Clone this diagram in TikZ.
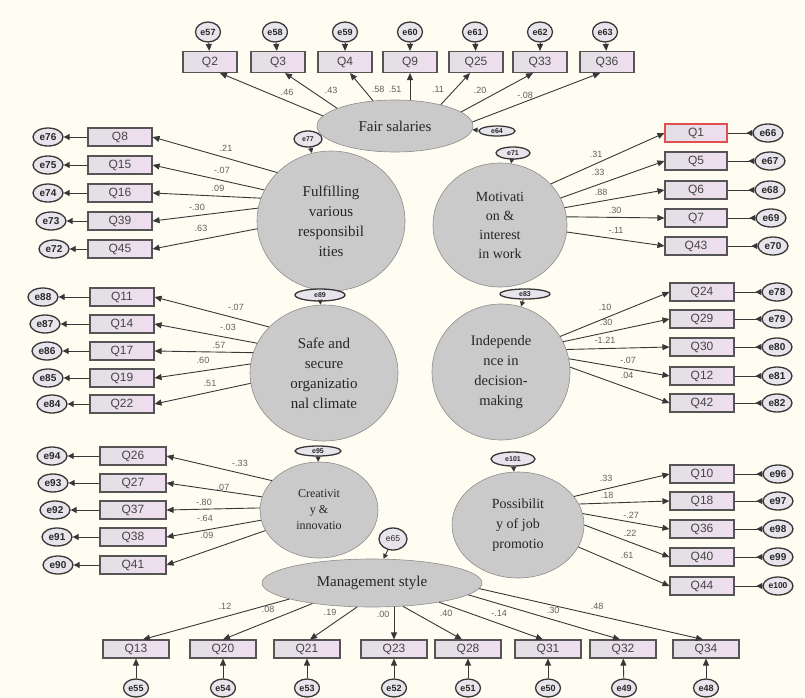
\documentclass[tikz,border=0pt]{standalone}
\usepackage{fontspec}
\setmainfont{Liberation Serif}
\setsansfont{Liberation Sans}
\usetikzlibrary{arrows.meta,shapes.geometric}
\definecolor{bg}{RGB}{255,253,242}
\definecolor{boxline}{RGB}{85,85,85}
\definecolor{boxL}{RGB}{226,224,228}
\definecolor{boxR}{RGB}{240,222,240}
\definecolor{qtext}{RGB}{70,70,70}
\definecolor{latfill}{RGB}{202,202,202}
\definecolor{latline}{RGB}{140,140,140}
\definecolor{errline}{RGB}{55,55,55}
\definecolor{errfill}{RGB}{232,228,236}
\definecolor{errtext}{RGB}{40,40,40}
\definecolor{lnc}{RGB}{55,55,55}
\definecolor{coefc}{RGB}{95,95,95}
\definecolor{redline}{RGB}{225,80,80}
\begin{document}
\begin{tikzpicture}[x=1pt,y=-1pt,
  obs/.style={rectangle, draw=boxline, line width=1.1pt, left color=boxL, right color=boxR, minimum width=64pt, minimum height=18pt, inner sep=0pt, font=\sffamily\fontsize{12}{12}\selectfont, text=qtext},
  obsT/.style={obs, minimum width=54pt, minimum height=21pt},
  obsB/.style={obs, minimum width=66pt},
  err/.style={ellipse, draw=errline, line width=1.3pt, fill=errfill, minimum width=30pt, minimum height=18pt, inner sep=0pt, font=\sffamily\bfseries\fontsize{10}{10}\selectfont, text=errtext},
  errT/.style={err, minimum width=25pt, minimum height=20pt, font=\sffamily\bfseries\fontsize{9}{9}\selectfont},
  errB/.style={err, minimum width=25pt, minimum height=18pt, font=\sffamily\bfseries\fontsize{9}{9}\selectfont},
  errS/.style={err, font=\sffamily\bfseries\fontsize{7}{7}\selectfont},
  lat/.style={ellipse, draw=latline, line width=0.6pt, fill=latfill, inner sep=0pt, align=center, text=black!85, font=\fontsize{15}{20}\selectfont},
  reg/.style={draw=lnc, line width=0.9pt, -{Triangle[length=7pt,width=6pt]}},
  regS/.style={draw=lnc, line width=0.9pt, -{Triangle[length=5pt,width=5pt]}},
  elinkL/.style={draw=lnc, line width=1pt, -{Triangle[length=6pt,width=6pt]}},
  elinkR/.style={draw=lnc, line width=1pt, -{Triangle[reversed,length=6pt,width=6pt]}},
  coef/.style={font=\sffamily\fontsize{9}{9}\selectfont, text=coefc, inner sep=0.5pt},
]
\fill[bg] (0,0) rectangle (805,698);
\useasboundingbox (0,0) rectangle (805,698);

% ---------- latent variables ----------
\node[lat, minimum width=156pt, minimum height=52pt] (fs) at (395,126) {Fair salaries};
\node[lat, minimum width=148pt, minimum height=140pt] (ful) at (331,221) {Fulfilling\\various\\responsibil\\ities};
\node[lat, minimum width=134pt, minimum height=124pt, font=\fontsize{14}{19}\selectfont] (mot) at (500,225) {Motivati\\on \&\\interest\\in work};
\node[lat, minimum width=148pt, minimum height=136pt] (safe) at (324,373) {Safe and\\secure\\organizatio\\nal climate};
\node[lat, minimum width=138pt, minimum height=136pt, font=\fontsize{14.5}{20}\selectfont] (ind) at (501,372) {Independe\\nce in\\decision-\\making};
\node[lat, minimum width=118pt, minimum height=96pt, font=\fontsize{12}{16}\selectfont] (cre) at (319,510) {Creativit\\y \&\\innovatio};
\node[lat, minimum width=132pt, minimum height=106pt, font=\fontsize{14}{20}\selectfont] (pos) at (518,525) {Possibilit\\y of job\\promotio};
\node[lat, minimum width=220pt, minimum height=48pt] (ms) at (372,583) {Management style};

% ---------- latent errors ----------
\node[errS, minimum width=36pt, minimum height=10pt] (e64) at (497,131) {e64};
\node[errS, minimum width=28pt, minimum height=16pt] (e77) at (308,139) {e77};
\node[errS, minimum width=34pt, minimum height=12pt] (e71) at (513,153) {e71};
\node[errS, minimum width=50pt, minimum height=12pt] (e89) at (320,295) {e89};
\node[errS, minimum width=50pt, minimum height=10pt] (e83) at (525,294) {e83};
\node[errS, minimum width=46pt, minimum height=10pt] (e95) at (318,451) {e95};
\node[errS, minimum width=44pt, minimum height=14pt] (e101) at (513,459) {e101};
\node[err, minimum width=28pt, minimum height=22pt, font=\sffamily\fontsize{8.5}{8.5}\selectfont] (e65) at (393,539) {e65};
\draw[regS] (e64) -- (fs);
\draw[regS] (e77) -- (ful);
\draw[regS] (e71) -- (mot);
\draw[regS] (e89) -- (safe);
\draw[regS] (e83) -- (ind);
\draw[regS] (e95) -- (cre);
\draw[regS] (e101) -- (pos);
\draw[regS] (e65) -- (ms);

% ---------- top: Fair salaries ----------
\node[obsT] (q2) at (210,62) {Q2};
\node[obsT] (q3) at (278,62) {Q3};
\node[obsT] (q4) at (345,62) {Q4};
\node[obsT] (q9) at (410,62) {Q9};
\node[obsT] (q25) at (476,62) {Q25};
\node[obsT] (q33) at (540,62) {Q33};
\node[obsT] (q36a) at (607,62) {Q36};
\node[errT] (e57) at (208,32) {e57};
\node[errT] (e58) at (275,32) {e58};
\node[errT] (e59) at (345,32) {e59};
\node[errT] (e60) at (410,32) {e60};
\node[errT] (e61) at (475,32) {e61};
\node[errT] (e62) at (540,32) {e62};
\node[errT] (e63) at (605,32) {e63};
\foreach \e/\q in {e57/q2,e58/q3,e59/q4,e60/q9,e61/q25,e62/q33,e63/q36a}
  \draw[reg] (\e) -- (\q);
\draw[reg] (fs.172) -- ([xshift=10pt]q2.south);
\draw[reg] (fs.163) -- ([xshift=7pt]q3.south);
\draw[reg] (fs.131) -- ([xshift=5pt]q4.south);
\draw[reg] (fs.north -| q9.south) -- (q9.south);
\draw[reg] (fs.25) -- ([xshift=-6pt]q25.south);
\draw[reg] (fs.12.5) -- ([xshift=-7pt]q33.south);
\draw[reg] (fs.3) -- ([xshift=-7pt]q36a.south);
\node[coef] (c1) at (287,92) {.46};
\node[coef] (c2) at (331,90) {.43};
\node[coef] (c3) at (378,89) {.58};
\node[coef] (c4) at (395,89) {.51};
\node[coef] (c5) at (438,89) {.11};
\node[coef] (c6) at (480,90) {.20};
\node[coef] (c7) at (525,95) {-.08};

% ---------- left upper: Fulfilling ----------
\node[obs] (q8) at (120,137) {Q8};
\node[obs] (q15) at (120,165) {Q15};
\node[obs] (q16) at (120,193) {Q16};
\node[obs] (q39) at (120,221) {Q39};
\node[obs] (q45) at (120,249) {Q45};
\node[err] (e76) at (48,137) {e76};
\node[err] (e75) at (48,165) {e75};
\node[err] (e74) at (48,193) {e74};
\node[err] (e73) at (51,221) {e73};
\node[err] (e72) at (54,249) {e72};
\foreach \q/\e in {q8/e76,q15/e75,q16/e74,q39/e73,q45/e72}
  \draw[elinkL] (\q) -- (\e);
\draw[reg] (ful.138) -- (q8.east);
\draw[reg] (ful.155) -- (q15.east);
\draw[reg] (ful.162) -- (q16.east);
\draw[reg] (ful.170) -- (q39.east);
\draw[reg] (ful.186) -- (q45.east);
\node[coef] (c8) at (226,148) {.21};
\node[coef] (c9) at (222,170) {-.07};
\node[coef] (c10) at (218,188) {.09};
\node[coef] (c11) at (197,207) {-.30};
\node[coef] (c12) at (201,228) {.63};

% ---------- left middle: Safe ----------
\node[obs] (q11) at (122,297) {Q11};
\node[obs] (q14) at (122,324) {Q14};
\node[obs] (q17) at (122,351) {Q17};
\node[obs] (q19) at (122,378) {Q19};
\node[obs] (q22) at (122,404) {Q22};
\node[err] (e88) at (43,297) {e88};
\node[err] (e87) at (45,324) {e87};
\node[err] (e86) at (47,351) {e86};
\node[err] (e85) at (48,378) {e85};
\node[err] (e84) at (52,404) {e84};
\foreach \q/\e in {q11/e88,q14/e87,q17/e86,q19/e85,q22/e84}
  \draw[elinkL] (\q) -- (\e);
\draw[reg] (safe.140) -- (q11.east);
\draw[reg] (safe.156) -- (q14.east);
\draw[reg] (safe.164) -- (q17.east);
\draw[reg] (safe.173) -- (q19.east);
\draw[reg] (safe.188) -- (q22.east);
\node[coef] (c13) at (236,307) {-.07};
\node[coef] (c14) at (228,327) {-.03};
\node[coef] (c15) at (219,345) {.57};
\node[coef] (c16) at (203,360) {.60};
\node[coef] (c17) at (210,383) {.51};

% ---------- left lower: Creativity ----------
\node[obs, minimum width=66pt] (q26) at (133,456) {Q26};
\node[obs, minimum width=66pt] (q27) at (133,483) {Q27};
\node[obs, minimum width=66pt] (q37) at (133,510) {Q37};
\node[obs, minimum width=66pt] (q38) at (133,537) {Q38};
\node[obs, minimum width=66pt] (q41) at (133,565) {Q41};
\node[err] (e94) at (52,456) {e94};
\node[err] (e93) at (53,483) {e93};
\node[err] (e92) at (55,510) {e92};
\node[err] (e91) at (57,537) {e91};
\node[err] (e90) at (58,565) {e90};
\foreach \q/\e in {q26/e94,q27/e93,q37/e92,q38/e91,q41/e90}
  \draw[elinkL] (\q) -- (\e);
\draw[reg] (cre.148) -- (q26.east);
\draw[reg] (cre.167) -- (q27.east);
\draw[reg] (cre.178) -- (q37.east);
\draw[reg] (cre.190) -- (q38.east);
\draw[reg] (cre.201) -- (q41.east);
\node[coef] (c18) at (240,463) {-.33};
\node[coef] (c19) at (223,487) {.07};
\node[coef] (c20) at (204,502) {-.80};
\node[coef] (c21) at (205,518) {-.64};
\node[coef] (c22) at (207,535) {.09};

% ---------- right upper: Motivation ----------
\node[obs, minimum width=62pt, draw=redline] (q1) at (696,133) {Q1};
\node[obs, minimum width=62pt] (q5) at (696,161) {Q5};
\node[obs, minimum width=62pt] (q6) at (696,190) {Q6};
\node[obs, minimum width=62pt] (q7) at (696,218) {Q7};
\node[obs, minimum width=62pt] (q43) at (696,246) {Q43};
\node[err] (e66) at (768,133) {e66};
\node[err] (e67) at (770,161) {e67};
\node[err] (e68) at (770,190) {e68};
\node[err] (e69) at (771,218) {e69};
\node[err] (e70) at (773,246) {e70};
\foreach \q/\e in {q1/e66,q5/e67,q6/e68,q7/e69,q43/e70}
  \draw[elinkR] (\q) -- (\e);
\draw[reg] (mot.39) -- (q1.west);
\draw[reg] (mot.24) -- (q5.west);
\draw[reg] (mot.15) -- (q6.west);
\draw[reg] (mot.7) -- (q7.west);
\draw[reg] (mot.-6) -- (q43.west);
\node[coef] (c23) at (596,154) {.31};
\node[coef] (c24) at (598,172) {.33};
\node[coef] (c25) at (601,192) {.88};
\node[coef] (c26) at (615,210) {.30};
\node[coef] (c27) at (616,230) {-.11};

% ---------- right middle: Independence ----------
\node[obs] (q24) at (702,292) {Q24};
\node[obs] (q29) at (702,319) {Q29};
\node[obs] (q30) at (702,347) {Q30};
\node[obs] (q12) at (702,376) {Q12};
\node[obs] (q42) at (702,403) {Q42};
\node[err] (e78) at (777,292) {e78};
\node[err] (e79) at (777,319) {e79};
\node[err] (e80) at (777,347) {e80};
\node[err] (e81) at (777,376) {e81};
\node[err] (e82) at (777,403) {e82};
\foreach \q/\e in {q24/e78,q29/e79,q30/e80,q12/e81,q42/e82}
  \draw[elinkR] (\q) -- (\e);
\draw[reg] (ind.31) -- (q24.west);
\draw[reg] (ind.26) -- (q29.west);
\draw[reg] (ind.19) -- (q30.west);
\draw[reg] (ind.11) -- (q12.west);
\draw[reg] (ind.4) -- (q42.west);
\node[coef] (c28) at (605,307) {.10};
\node[coef] (c29) at (606,322) {.30};
\node[coef] (c30) at (605,340) {-1.21};
\node[coef] (c31) at (628,360) {-.07};
\node[coef] (c32) at (627,375) {.04};

% ---------- right lower: Possibility ----------
\node[obs] (q10) at (702,474) {Q10};
\node[obs] (q18) at (702,501) {Q18};
\node[obs] (q36b) at (702,529) {Q36};
\node[obs] (q40) at (702,557) {Q40};
\node[obs] (q44) at (702,586) {Q44};
\node[err] (e96) at (778,474) {e96};
\node[err] (e97) at (778,501) {e97};
\node[err] (e98) at (778,529) {e98};
\node[err] (e99) at (778,557) {e99};
\node[err, font=\sffamily\bfseries\fontsize{8.5}{8.5}\selectfont] (e100) at (778,586) {e100};
\foreach \q/\e in {q10/e96,q18/e97,q36b/e98,q40/e99,q44/e100}
  \draw[elinkR] (\q) -- (\e);
\draw[reg] (pos.27) -- (q10.west);
\draw[reg] (pos.19) -- (q18.west);
\draw[reg] (pos.10) -- (q36b.west);
\draw[reg] (pos.0) -- (q40.west);
\draw[reg] (pos.-20) -- (q44.west);
\node[coef] (c33) at (606,478) {.33};
\node[coef] (c34) at (607,495) {.18};
\node[coef] (c35) at (631,515) {-.27};
\node[coef] (c36) at (630,533) {.22};
\node[coef] (c37) at (627,555) {.61};

% ---------- bottom: Management style ----------
\node[obsB] (q13) at (136,649) {Q13};
\node[obsB] (q20) at (223,649) {Q20};
\node[obsB] (q21) at (307,649) {Q21};
\node[obsB] (q23) at (394,649) {Q23};
\node[obsB] (q28) at (468,649) {Q28};
\node[obsB] (q31) at (548,649) {Q31};
\node[obsB] (q32) at (623,649) {Q32};
\node[obsB] (q34) at (706,649) {Q34};
\node[errB] (e55) at (136,688) {e55};
\node[errB] (e54) at (223,688) {e54};
\node[errB] (e53) at (307,688) {e53};
\node[errB] (e52) at (394,688) {e52};
\node[errB] (e51) at (468,688) {e51};
\node[errB] (e50) at (548,688) {e50};
\node[errB] (e49) at (624,688) {e49};
\node[errB] (e48) at (706,688) {e48};
\foreach \e/\q in {e55/q13,e54/q20,e53/q21,e52/q23,e51/q28,e50/q31,e49/q32,e48/q34}
  \draw[reg] (\e) -- (\q);
\draw[reg] (ms.191) -- ([xshift=7pt]q13.north);
\draw[reg] (ms.199) -- (q20.north);
\draw[reg] (ms.238) -- ([xshift=3pt]q21.north);
\draw[reg] (ms.south -| q23.north) -- (q23.north);
\draw[reg] (ms.323) -- ([xshift=-6pt]q28.north);
\draw[reg] (ms.344) -- ([xshift=-5pt]q31.north);
\draw[reg] (ms.353) -- ([xshift=-3pt]q32.north);
\draw[reg] (ms.357) -- ([xshift=-3pt]q34.north);
\node[coef] (c38) at (225,606) {.12};
\node[coef] (c39) at (268,609) {.08};
\node[coef] (c40) at (330,612) {.19};
\node[coef] (c41) at (383,614) {.00};
\node[coef] (c42) at (446,613) {.40};
\node[coef] (c43) at (499,613) {-.14};
\node[coef] (c44) at (553,610) {.30};
\node[coef] (c45) at (597,606) {.48};
\end{tikzpicture}
\end{document}
